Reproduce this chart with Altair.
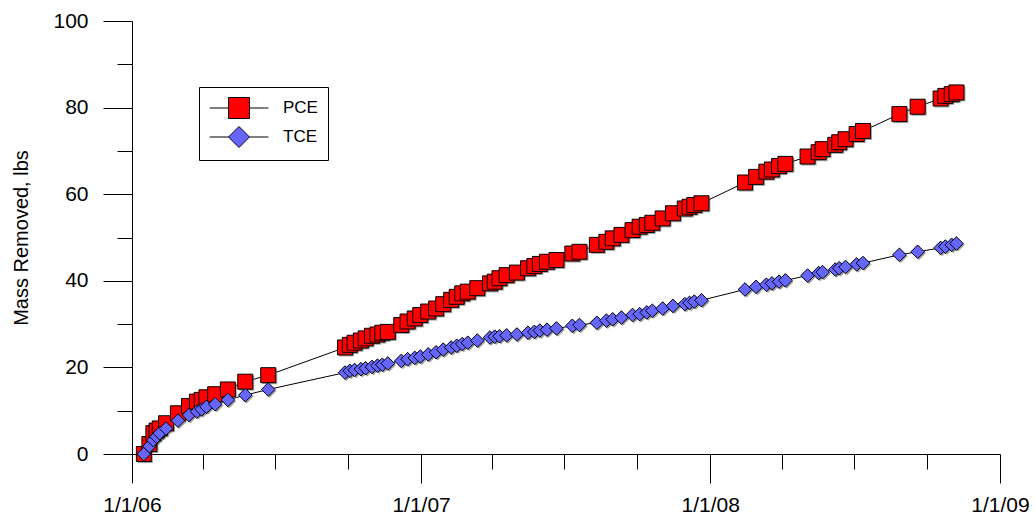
import altair as alt
import pandas as pd

# ---- data ----
dates = [
    "2006-01-16", "2006-01-23", "2006-01-28", "2006-02-01", "2006-02-05", "2006-02-13",
    "2006-02-28", "2006-03-14", "2006-03-24", "2006-03-30", "2006-04-05", "2006-04-16",
    "2006-05-02", "2006-05-24", "2006-06-22",
    "2006-09-27", "2006-10-03", "2006-10-09", "2006-10-17", "2006-10-23", "2006-10-31",
    "2006-11-07", "2006-11-13", "2006-11-20", "2006-12-07", "2006-12-15", "2006-12-24",
    "2006-12-31", "2007-01-10", "2007-01-20", "2007-01-29", "2007-02-08", "2007-02-15",
    "2007-02-22", "2007-03-01", "2007-03-13", "2007-03-29", "2007-04-04", "2007-04-10",
    "2007-04-19", "2007-05-02", "2007-05-16", "2007-05-24", "2007-05-31", "2007-06-09",
    "2007-06-21", "2007-07-11", "2007-07-20", "2007-08-11", "2007-08-23", "2007-08-31",
    "2007-09-11", "2007-09-25", "2007-10-04", "2007-10-13", "2007-10-20", "2007-11-02",
    "2007-11-15", "2007-11-30", "2007-12-06", "2007-12-12", "2007-12-21",
    "2008-02-14", "2008-02-28", "2008-03-12", "2008-03-19", "2008-03-28", "2008-04-05",
    "2008-05-03", "2008-05-17", "2008-05-22", "2008-06-07", "2008-06-12", "2008-06-20",
    "2008-07-04", "2008-07-12", "2008-08-27", "2008-09-19", "2008-10-18", "2008-10-24",
    "2008-11-01", "2008-11-07",
]
pce = [
    0.0, 2.3, 4.8, 5.4, 5.9, 7.1, 9.4, 11.1, 12.1, 12.5, 13.1, 13.8, 14.9, 16.7, 18.2,
    24.6, 25.2, 25.7, 26.2, 26.7, 27.3, 27.6, 28.0, 28.2, 29.8, 30.6, 31.3, 32.1, 32.9,
    33.6, 34.6, 35.6, 36.3, 37.1, 37.5, 38.3, 39.4, 39.8, 40.6, 41.3, 41.9, 42.9, 43.4,
    43.9, 44.4, 44.8, 46.3, 46.7, 48.3, 49.0, 49.8, 50.6, 51.7, 52.5, 52.9, 53.4, 54.4,
    55.6, 56.7, 57.1, 57.5, 57.9,
    62.7, 64.0, 65.2, 65.7, 66.5, 67.0, 68.7, 69.7, 70.4, 71.4, 72.0, 72.7, 73.9, 74.6,
    78.5, 80.2, 82.1, 82.7, 83.1, 83.5,
]
tce = [
    0.0, 1.8, 3.2, 4.0, 4.8, 5.9, 7.7, 9.0, 9.8, 10.3, 10.9, 11.5, 12.5, 13.6, 14.9,
    18.8, 19.2, 19.4, 19.6, 19.8, 20.1, 20.4, 20.6, 20.9, 21.5, 21.9, 22.2, 22.5, 23.0,
    23.5, 24.1, 24.6, 25.0, 25.4, 25.7, 26.2, 26.9, 27.1, 27.2, 27.4, 27.6, 28.0, 28.2,
    28.5, 28.7, 29.0, 29.6, 29.8, 30.3, 30.8, 31.1, 31.5, 32.1, 32.3, 32.7, 33.1, 33.6,
    34.2, 34.6, 34.9, 35.2, 35.5,
    38.0, 38.6, 39.1, 39.4, 39.8, 40.1, 41.2, 41.8, 42.0, 42.6, 42.9, 43.2, 43.8, 44.1,
    46.0, 46.7, 47.6, 47.9, 48.3, 48.6,
]
series_names = ["PCE", "TCE"]
series_colors = ["#ff0000", "#6666ff"]
tick_years = [2006, 2007, 2008]
tick_months = [1, 4, 7, 10]
y_ticks = list(range(0, 101, 10))

rows = []
for d, p, t in zip(dates, pce, tce):
    rows.append({"date": d, "series": "PCE", "mass": p})
    rows.append({"date": d, "series": "TCE", "mass": t})
df = pd.DataFrame(rows)

FONT = "Liberation Sans"

x_ticks = [alt.DateTime(year=yy, month=mm, date=1, utc=True)
           for yy in tick_years for mm in tick_months]
x_ticks.append(alt.DateTime(year=2009, month=1, date=1, utc=True))

x_enc = alt.X(
    "date:T",
    scale=alt.Scale(type="utc",
                    domain=[alt.DateTime(year=2006, month=1, date=1, utc=True),
                            alt.DateTime(year=2009, month=1, date=1, utc=True)]),
    axis=alt.Axis(
        values=x_ticks,
        labelExpr="utcmonth(datum.value) == 0 ? utcFormat(datum.value, '%-m/%-d/%y') : ''",
        tickSize={"condition": {"test": "utcmonth(datum.value) == 0", "value": 29}, "value": 15},
        labelPadding=11, labelFlush=False, labelOverlap=False, labelBound=False,
        grid=False, title=None,
    ),
)
y_enc = alt.Y(
    "mass:Q",
    scale=alt.Scale(domain=[0, 100], nice=False, zero=False),
    axis=alt.Axis(
        values=y_ticks,
        labelExpr="datum.value % 20 == 0 ? datum.label : ''",
        tickSize={"condition": {"test": "datum.value % 20 == 0", "value": 29}, "value": 15},
        labelPadding=15, labelOverlap=False, grid=False,
        title="Mass Removed, lbs", titlePadding=21,
    ),
)

base = alt.Chart(df).encode(x=x_enc, y=y_enc)

lines = base.mark_line(color="black", strokeWidth=1).encode(detail="series:N")

shadow_sq = base.transform_filter("datum.series == 'PCE'").mark_point(
    shape="square", filled=True, fill="#7a7a7a", stroke=None, size=225,
    opacity=0.7, xOffset=1.5, yOffset=1.5)
shadow_di = base.transform_filter("datum.series == 'TCE'").mark_point(
    shape="diamond", filled=True, fill="#7a7a7a", stroke=None, size=185,
    opacity=0.7, xOffset=1.5, yOffset=1.5)

pts_pce = base.transform_filter("datum.series == 'PCE'").mark_point(
    shape="square", filled=True, fill=series_colors[0], stroke="black",
    strokeWidth=1, size=225, opacity=1)
pts_tce = base.transform_filter("datum.series == 'TCE'").mark_point(
    shape="diamond", filled=True, fill=series_colors[1], stroke="black",
    strokeWidth=1, size=185, opacity=1)

sym_sq = "M-2.8,0H-1M1,0H2.8M-1,-1H1V1H-1Z"
sym_di = "M-2.8,0H-1M1,0H2.8M-1,0L0,-1L1,0L0,1Z"

legend_def = alt.Legend(
    title=None, orient="none", legendX=67, legendY=66, padding=10,
    strokeColor="black", fillColor="white", cornerRadius=0,
    symbolSize=441, symbolStrokeColor="black", symbolStrokeWidth=1,
    symbolOffset=19, labelOffset=33, rowPadding=3,
    labelFont=FONT, labelFontSize=17, labelColor="black",
)
legend_layer = base.transform_filter("false").mark_point(
    filled=True, strokeWidth=1, opacity=1).encode(
    fill=alt.Fill("series:N", scale=alt.Scale(domain=series_names, range=series_colors),
                  legend=legend_def),
    shape=alt.Shape("series:N", scale=alt.Scale(domain=series_names, range=[sym_sq, sym_di]),
                    legend=legend_def),
    stroke=alt.Stroke("series:N", scale=alt.Scale(domain=series_names, range=["black", "black"]),
                      legend=legend_def),
)

chart = alt.layer(lines, shadow_sq, shadow_di, pts_pce, pts_tce, legend_layer).properties(
    width=868, height=433,
    autosize=alt.AutoSizeParams(type="none"),
    padding={"left": 132, "top": 21, "right": 35, "bottom": 69},
    background="white",
).configure_view(stroke=None).configure_axis(
    domainColor="black", tickColor="black", labelColor="black", titleColor="black",
    domainWidth=1, tickWidth=1, labelFont=FONT, titleFont=FONT,
    labelFontSize=21, titleFontSize=20, titleFontWeight="normal",
)

chart.save("out.html", embed_options={"renderer": "svg", "actions": False})
